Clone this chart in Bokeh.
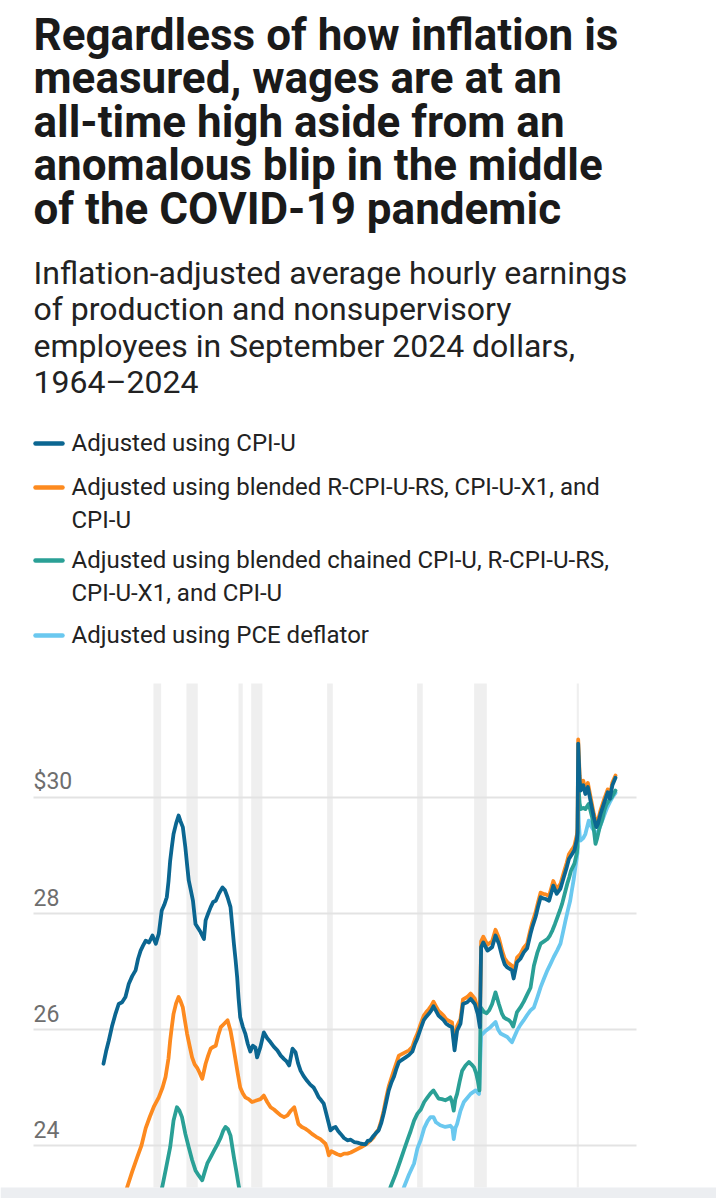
from bokeh.plotting import figure
from bokeh.models import Range1d
from bokeh.core.properties import value
from bokeh.embed import file_html
from bokeh.resources import INLINE

# ---------------- data ----------------
TITLE_LINES = [
    "Regardless of how inflation is",
    "measured, wages are at an",
    "all-time high aside from an",
    "anomalous blip in the middle",
    "of the COVID-19 pandemic",
]
SUBTITLE_LINES = [
    "Inflation-adjusted average hourly earnings",
    "of production and nonsupervisory",
    "employees in September 2024 dollars,",
    "1964\u20132024",
]
SERIES_NAMES = [
    "Adjusted using CPI-U",
    "Adjusted using blended R-CPI-U-RS, CPI-U-X1, and\nCPI-U",
    "Adjusted using blended chained CPI-U, R-CPI-U-RS,\nCPI-U-X1, and CPI-U",
    "Adjusted using PCE deflator",
]
SERIES_COLORS = ["#0b6691", "#fd8a1f", "#2aa096", "#6ac8ef"]

Y_TICKS = [24, 26, 28, 30]
Y_TICK_LABELS = ["24", "26", "28", "$30"]

RECESSION_START = [1969.92, 1973.83, 1980.0, 1981.5, 1990.5, 2001.17, 2007.92, 2020.08]
RECESSION_END = [1970.83, 1975.17, 1980.5, 1982.83, 1991.17, 2001.83, 2009.42, 2020.33]

CPIU_YEARS = [1964.0, 1964.3, 1964.63, 1965.0, 1965.42, 1965.8, 1966.2, 1966.6, 1967.0, 1967.4,
    1967.8, 1968.1, 1968.4, 1968.7, 1969.0, 1969.4, 1969.8, 1970.2, 1970.55, 1970.9,
    1971.2, 1971.5, 1971.7, 1971.9, 1972.1, 1972.3, 1972.6, 1972.9, 1973.1, 1973.4,
    1973.7, 1973.9, 1974.1, 1974.35, 1974.6, 1974.9, 1975.2, 1975.5, 1975.9, 1976.1,
    1976.4, 1976.7, 1977.0, 1977.3, 1977.7, 1978.1, 1978.4, 1978.7, 1979.05, 1979.25,
    1979.45, 1979.65, 1979.84, 1980.0, 1980.2, 1980.5, 1980.8, 1981.1, 1981.4, 1981.7,
    1982.0, 1982.2, 1982.6, 1983.0, 1983.4, 1983.8, 1984.2, 1984.6, 1985.0, 1985.4,
    1985.7, 1986.0, 1986.4, 1986.75, 1987.05, 1987.35, 1987.7, 1988.1, 1988.5, 1988.9,
    1989.2, 1989.5, 1989.8, 1990.1, 1990.5, 1990.9, 1991.2, 1991.5, 1991.8, 1992.1,
    1992.5, 1992.9, 1993.3, 1993.7, 1994.1, 1994.5, 1995.05, 1995.3, 1995.6, 1995.9,
    1996.2, 1996.6, 1996.9, 1997.2, 1997.5, 1997.8, 1998.1, 1998.4, 1998.7, 1999.0,
    1999.4, 1999.8, 2000.2, 2000.6, 2000.9, 2001.2, 2001.5, 2001.95, 2002.25, 2002.55,
    2002.85, 2003.1, 2003.4, 2003.7, 2004.0, 2004.3, 2004.6, 2004.9, 2005.3, 2005.6,
    2005.9, 2006.3, 2006.6, 2007.1, 2007.5, 2008.0, 2008.35, 2008.6, 2008.75, 2009.0,
    2009.5, 2010.05, 2010.45, 2010.85, 2011.25, 2011.55, 2011.85, 2012.4, 2012.6, 2013.0,
    2013.4, 2013.8, 2014.2, 2014.6, 2014.8, 2015.2, 2015.5, 2015.8, 2016.1, 2016.4,
    2016.8, 2017.3, 2017.7, 2018.15, 2018.55, 2018.9, 2019.15, 2019.55, 2019.8, 2020.1,
    2020.17, 2020.25, 2020.33, 2020.42, 2020.55, 2020.85, 2021.1, 2021.4, 2021.7, 2022.1,
    2022.4, 2022.6, 2022.9, 2023.35, 2023.75, 2024.0, 2024.3, 2024.67]
CPIU_VALUES = [25.41, 25.62, 25.81, 26.05, 26.27, 26.44, 26.47, 26.56, 26.79, 26.92,
    27.02, 27.22, 27.36, 27.45, 27.53, 27.50, 27.62, 27.48, 27.65, 28.05,
    28.15, 28.28, 28.55, 28.91, 29.15, 29.37, 29.55, 29.69, 29.60, 29.49,
    29.14, 28.85, 28.57, 28.40, 28.22, 27.82, 27.75, 27.68, 27.56, 27.88,
    28.00, 28.11, 28.20, 28.22, 28.35, 28.45, 28.40, 28.28, 28.11, 27.80,
    27.48, 27.20, 26.90, 26.55, 26.21, 26.05, 25.93, 25.75, 25.62, 25.72,
    25.69, 25.52, 25.70, 25.95, 25.85, 25.78, 25.70, 25.64, 25.55, 25.49,
    25.45, 25.38, 25.67, 25.61, 25.42, 25.29, 25.20, 25.12, 25.05, 25.00,
    24.92, 24.83, 24.78, 24.72, 24.49, 24.26, 24.30, 24.32, 24.25, 24.20,
    24.13, 24.09, 24.10, 24.06, 24.05, 24.03, 24.02, 24.08, 24.09, 24.15,
    24.20, 24.26, 24.38, 24.55, 24.75, 24.95, 25.08, 25.18, 25.32, 25.44,
    25.48, 25.52, 25.56, 25.62, 25.75, 25.85, 25.98, 26.16, 26.22, 26.27,
    26.33, 26.40, 26.32, 26.24, 26.20, 26.16, 26.10, 26.07, 26.04, 25.64,
    25.98, 26.10, 26.44, 26.47, 26.53, 26.44, 26.27, 26.04, 27.42, 27.50,
    27.36, 27.42, 27.62, 27.48, 27.25, 27.12, 27.07, 27.02, 26.88, 27.16,
    27.22, 27.33, 27.40, 27.65, 27.76, 27.94, 28.12, 28.28, 28.26, 28.25,
    28.22, 28.48, 28.34, 28.43, 28.63, 28.80, 28.94, 29.03, 29.09, 29.28,
    29.40, 30.93, 30.64, 30.30, 30.12, 30.21, 30.06, 30.18, 29.95, 29.66,
    29.49, 29.55, 29.72, 29.92, 30.09, 29.98, 30.21, 30.34]

BLEND_YEARS = [1964.0, 1965.0, 1966.0, 1966.8, 1967.4, 1968.0, 1968.5, 1969.0, 1969.5, 1970.0,
    1970.55, 1971.0, 1971.35, 1971.7, 1971.9, 1972.1, 1972.3, 1972.6, 1972.9, 1973.1,
    1973.4, 1973.65, 1973.9, 1974.2, 1974.5, 1974.8, 1975.1, 1975.4, 1975.7, 1976.1,
    1976.4, 1976.7, 1977.0, 1977.3, 1977.6, 1977.9, 1978.3, 1978.7, 1979.05, 1979.3,
    1979.6, 1979.9, 1980.2, 1980.5, 1980.8, 1981.2, 1981.6, 1982.2, 1982.6, 1983.0,
    1983.4, 1983.8, 1984.2, 1984.6, 1985.0, 1985.4, 1985.8, 1986.2, 1986.6, 1987.1,
    1987.5, 1987.9, 1988.3, 1988.7, 1989.2, 1989.7, 1990.3, 1990.5, 1990.7, 1991.0,
    1991.3, 1991.7, 1992.1, 1992.5, 1992.9, 1993.3, 1993.7, 1994.1, 1994.5, 1995.2,
    1995.6, 1996.0, 1996.3, 1996.6, 1996.9, 1997.2, 1997.5, 1997.8, 1998.1, 1998.4,
    1998.7, 1999.0, 1999.4, 1999.8, 2000.2, 2000.6, 2000.9, 2001.2, 2001.5, 2001.95,
    2002.25, 2002.55, 2002.85, 2003.1, 2003.4, 2003.7, 2004.0, 2004.3, 2004.6, 2004.9,
    2005.3, 2005.6, 2005.9, 2006.3, 2006.6, 2007.1, 2007.5, 2008.0, 2008.35, 2008.6,
    2008.75, 2009.0, 2009.5, 2010.05, 2010.45, 2010.85, 2011.25, 2011.55, 2011.85, 2012.4,
    2012.6, 2013.0, 2013.4, 2013.8, 2014.2, 2014.6, 2014.8, 2015.2, 2015.5, 2015.8,
    2016.1, 2016.4, 2016.8, 2017.3, 2017.7, 2018.15, 2018.55, 2018.9, 2019.15, 2019.55,
    2019.8, 2020.1, 2020.17, 2020.25, 2020.33, 2020.42, 2020.55, 2020.85, 2021.1, 2021.4,
    2021.7, 2022.1, 2022.4, 2022.6, 2022.9, 2023.35, 2023.75, 2024.0, 2024.3, 2024.67]
BLEND_VALUES = [22.00, 22.45, 22.90, 23.28, 23.55, 23.80, 24.00, 24.30, 24.50, 24.68,
    24.83, 25.00, 25.18, 25.50, 25.81, 26.05, 26.27, 26.45, 26.56, 26.50,
    26.38, 26.15, 25.93, 25.72, 25.52, 25.40, 25.34, 25.25, 25.15, 25.41,
    25.55, 25.67, 25.70, 25.72, 25.90, 26.04, 26.10, 26.16, 25.98, 25.78,
    25.52, 25.25, 25.00, 24.90, 24.83, 24.80, 24.75, 24.78, 24.80, 24.86,
    24.75, 24.66, 24.62, 24.57, 24.52, 24.49, 24.52, 24.60, 24.66, 24.37,
    24.32, 24.29, 24.25, 24.20, 24.15, 24.11, 24.03, 23.95, 23.83, 23.90,
    23.88, 23.85, 23.83, 23.86, 23.86, 23.88, 23.91, 23.94, 23.97, 24.03,
    24.08, 24.14, 24.22, 24.28, 24.42, 24.60, 24.82, 25.02, 25.16, 25.29,
    25.42, 25.55, 25.58, 25.61, 25.64, 25.70, 25.83, 25.93, 26.06, 26.24,
    26.30, 26.35, 26.41, 26.48, 26.40, 26.32, 26.28, 26.24, 26.18, 26.15,
    26.12, 25.72, 26.06, 26.18, 26.52, 26.56, 26.62, 26.53, 26.36, 26.12,
    27.52, 27.60, 27.46, 27.52, 27.72, 27.58, 27.35, 27.22, 27.16, 27.10,
    26.97, 27.24, 27.30, 27.41, 27.48, 27.73, 27.84, 28.02, 28.20, 28.36,
    28.34, 28.33, 28.30, 28.56, 28.42, 28.51, 28.71, 28.88, 29.02, 29.11,
    29.17, 29.36, 29.47, 31.00, 30.72, 30.38, 30.20, 30.29, 30.13, 30.25,
    30.02, 29.72, 29.55, 29.61, 29.78, 29.98, 30.14, 30.03, 30.26, 30.38]

CHAINED_YEARS = [1964.0, 1966.0, 1968.0, 1970.0, 1970.95, 1971.4, 1971.9, 1972.3, 1972.7, 1973.0,
    1973.3, 1973.7, 1974.1, 1974.5, 1974.9, 1975.3, 1975.7, 1976.0, 1976.3, 1976.7,
    1977.1, 1977.5, 1977.9, 1978.2, 1978.45, 1978.75, 1979.05, 1979.45, 1979.75, 1980.05,
    1980.5, 1981.5, 1983.0, 1986.5, 1990.0, 1993.0, 1995.0, 1996.5, 1997.3, 1998.0,
    1998.6, 1999.2, 1999.6, 2000.0, 2000.4, 2000.8, 2001.2, 2001.6, 2002.0, 2002.35,
    2002.75, 2003.1, 2003.4, 2003.7, 2004.1, 2004.5, 2004.8, 2005.1, 2005.3, 2005.5,
    2005.7, 2005.9, 2006.2, 2006.5, 2006.9, 2007.3, 2007.6, 2007.9, 2008.15, 2008.35,
    2008.55, 2008.7, 2009.1, 2009.4, 2009.7, 2010.05, 2010.45, 2010.85, 2011.2, 2011.45,
    2011.75, 2012.05, 2012.3, 2012.55, 2013.0, 2013.4, 2013.8, 2014.2, 2014.6, 2015.0,
    2015.4, 2015.8, 2016.2, 2016.6, 2016.9, 2017.2, 2017.5, 2017.8, 2018.1, 2018.35,
    2018.65, 2018.95, 2019.2, 2019.4, 2019.6, 2019.8, 2020.1, 2020.17, 2020.25, 2020.33,
    2020.42, 2020.55, 2020.85, 2021.1, 2021.5, 2021.9, 2022.1, 2022.3, 2022.5, 2022.8,
    2023.1, 2023.35, 2023.6, 2023.9, 2024.2, 2024.67]
CHAINED_VALUES = [20.40, 21.10, 21.90, 22.70, 23.28, 23.60, 23.97, 24.43, 24.66, 24.60,
    24.49, 24.20, 23.97, 23.75, 23.57, 23.48, 23.40, 23.55, 23.69, 23.80,
    23.91, 24.02, 24.14, 24.26, 24.32, 24.28, 24.17, 23.80, 23.55, 23.28,
    23.00, 22.80, 22.90, 22.75, 22.05, 21.70, 21.85, 22.40, 22.85, 23.28,
    23.50, 23.75, 23.92, 24.09, 24.25, 24.43, 24.55, 24.62, 24.75, 24.82,
    24.90, 24.95, 24.88, 24.81, 24.80, 24.78, 24.80, 24.83, 24.75, 24.60,
    24.80, 24.89, 25.10, 25.29, 25.38, 25.44, 25.40, 25.35, 25.25, 25.12,
    24.95, 26.38, 26.30, 26.28, 26.33, 26.44, 26.64, 26.44, 26.28, 26.21,
    26.18, 26.16, 26.12, 26.05, 26.30, 26.38, 26.48, 26.60, 26.72, 27.10,
    27.32, 27.48, 27.52, 27.56, 27.62, 27.71, 27.82, 27.94, 28.06, 28.17,
    28.34, 28.51, 28.63, 28.74, 28.80, 28.86, 29.05, 29.15, 30.45, 30.10,
    29.90, 29.80, 29.82, 29.80, 29.89, 29.66, 29.45, 29.20, 29.30, 29.49,
    29.62, 29.78, 29.88, 29.95, 30.00, 30.12]

PCE_YEARS = [1964.0, 1967.0, 1970.0, 1972.9, 1975.5, 1978.5, 1981.0, 1985.0, 1990.0, 1994.0,
    1996.5, 1998.0, 1999.0, 1999.6, 2000.2, 2000.8, 2001.2, 2001.6, 2002.0, 2002.4,
    2002.75, 2003.1, 2003.4, 2003.9, 2004.5, 2005.1, 2005.35, 2005.5, 2005.7, 2005.9,
    2006.3, 2006.7, 2007.1, 2007.5, 2008.1, 2008.5, 2008.75, 2009.3, 2009.85, 2010.45,
    2010.75, 2011.05, 2011.45, 2011.85, 2012.15, 2012.4, 2013.0, 2013.4, 2013.8, 2014.2,
    2014.6, 2015.0, 2015.4, 2015.8, 2016.2, 2016.6, 2017.0, 2017.35, 2017.75, 2018.15,
    2018.45, 2018.75, 2019.05, 2019.3, 2019.5, 2019.7, 2019.9, 2020.1, 2020.17, 2020.25,
    2020.33, 2020.45, 2020.55, 2020.85, 2021.1, 2021.5, 2021.8, 2022.1, 2022.5, 2022.8,
    2023.1, 2023.4, 2023.7, 2024.0, 2024.3, 2024.67]
PCE_VALUES = [19.90, 20.80, 21.60, 22.60, 21.90, 22.30, 21.50, 21.60, 21.50, 21.40,
    21.90, 22.60, 23.00, 23.28, 23.50, 23.69, 23.95, 24.10, 24.30, 24.42,
    24.49, 24.49, 24.40, 24.35, 24.32, 24.34, 24.30, 24.11, 24.30, 24.37,
    24.60, 24.75, 24.82, 24.89, 24.95, 24.89, 25.90, 25.98, 26.04, 26.13,
    26.00, 25.93, 25.90, 25.87, 25.82, 25.78, 25.98, 26.08, 26.16, 26.25,
    26.33, 26.38, 26.55, 26.73, 26.88, 27.02, 27.14, 27.25, 27.36, 27.48,
    27.68, 27.88, 28.07, 28.22, 28.40, 28.57, 28.78, 28.97, 29.05, 29.90,
    29.55, 29.30, 29.26, 29.30, 29.37, 29.60, 29.50, 29.43, 29.37, 29.48,
    29.60, 29.72, 29.83, 29.92, 30.00, 30.08]

SERIES_X = [CPIU_YEARS, BLEND_YEARS, CHAINED_YEARS, PCE_YEARS]
SERIES_Y = [CPIU_VALUES, BLEND_VALUES, CHAINED_VALUES, PCE_VALUES]

# ---------------- layout (page pixels -> data units) ----------------
W, H = 716, 1198
FONT = "Roboto"
PX_PER_YEAR = 8.439      # horizontal scale of the chart
X1964_PX = 103.0         # where 1964 sits on the page
PX_PER_DOLLAR = 58.0     # vertical scale of the chart
Y30_PX = 797.0           # where $30 sits on the page


def xd(px):
    return 1964.0 + (px - X1964_PX) / PX_PER_YEAR


def yd(py):
    return 30.0 - (py - Y30_PX) / PX_PER_DOLLAR


PLOT_LEFT, PLOT_RIGHT, PLOT_TOP, PLOT_BOTTOM = 33, 636, 683, 1187

p = figure(width=W, height=H, x_range=Range1d(xd(0), xd(W)), y_range=Range1d(yd(H), yd(0)),
           x_axis_type=None, y_axis_type=None, toolbar_location=None, output_backend="svg",
           min_border_left=0, min_border_right=0, min_border_top=0, min_border_bottom=0,
           outline_line_color=None, background_fill_color="white", border_fill_color="white")

# title / subtitle
p.text(x=[xd(33)] * len(TITLE_LINES), y=[yd(34 + 43.6 * i) for i in range(len(TITLE_LINES))],
       text=TITLE_LINES, text_font=value(FONT), text_font_size="44px", text_font_style="bold",
       text_color="#1a1a1a", text_baseline="alphabetic", text_align="left")
p.text(x=[xd(33)] * len(SUBTITLE_LINES), y=[yd(272.5 + 36.3 * i) for i in range(len(SUBTITLE_LINES))],
       text=SUBTITLE_LINES, text_font=value(FONT), text_font_size="32px",
       text_color="#222222", text_baseline="alphabetic", text_align="left")

# legend
row_centers_px = [443, 487, 560, 635]
leg_text, leg_y = [], []
for name, c in zip(SERIES_NAMES, row_centers_px):
    for j, part in enumerate(name.split("\n")):
        leg_text.append(part)
        leg_y.append(yd(c - 0.5 + 33.3 * j))
p.text(x=[xd(71)] * len(leg_text), y=leg_y, text=leg_text, text_font=value(FONT),
       text_font_size="24px", text_color="#222222", text_baseline="alphabetic",
       text_align="left")
p.segment(x0=[xd(35)] * 4, x1=[xd(62)] * 4, y0=[yd(c) for c in row_centers_px],
          y1=[yd(c) for c in row_centers_px], line_color=SERIES_COLORS, line_width=4.5,
          line_cap="round")

# recession bands
p.quad(left=RECESSION_START, right=RECESSION_END, bottom=yd(PLOT_BOTTOM), top=yd(PLOT_TOP),
       fill_color="#efefef", line_color=None)

# gridlines and tick labels
p.segment(x0=[xd(PLOT_LEFT)] * len(Y_TICKS), x1=[xd(PLOT_RIGHT)] * len(Y_TICKS),
          y0=Y_TICKS, y1=Y_TICKS, line_color="#e3e3e3", line_width=2)
p.text(x=[xd(PLOT_LEFT)] * len(Y_TICKS), y=Y_TICKS, text=Y_TICK_LABELS,
       text_font=value(FONT), text_font_size="23px", text_color="#6e6e6e",
       text_baseline="alphabetic", text_align="left", y_offset=-16)

# series
for idx in [3, 2, 1, 0]:
    p.line(SERIES_X[idx], SERIES_Y[idx], line_color=SERIES_COLORS[idx], line_width=3.8,
           line_join="round", line_cap="round")

# grey strip at the bottom of the screenshot
p.quad(left=[xd(0)], right=[xd(W)], bottom=[yd(H)], top=[yd(PLOT_BOTTOM)],
       fill_color="#eceef1", line_color=None)

open("out.html", "w").write(file_html(p, INLINE))
